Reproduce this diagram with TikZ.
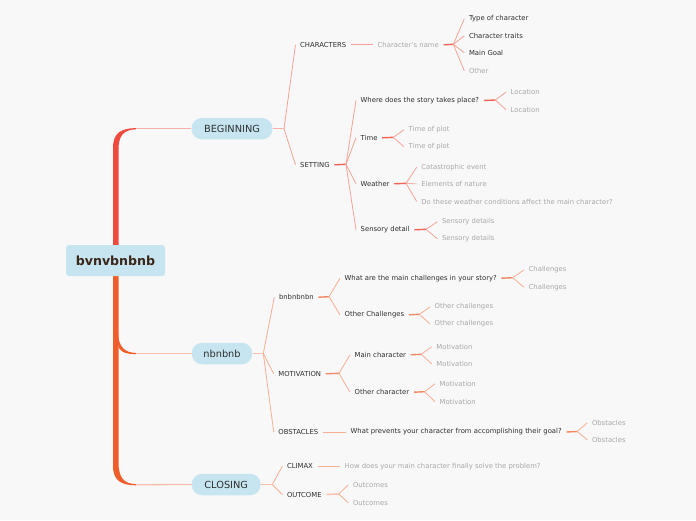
\documentclass[tikz,border=0pt]{standalone}
\usepackage{fontspec}
\setmainfont{DejaVu Sans}
\definecolor{bg}{HTML}{F8F8F8}
\definecolor{nodeblue}{HTML}{C6E5F0}
\definecolor{txtdark}{HTML}{2E2E2E}
\definecolor{txtgray}{HTML}{A8A8A8}
\definecolor{roottext}{HTML}{3A2618}
\definecolor{trunkA}{HTML}{EE4A3E}
\definecolor{trunkB}{HTML}{EF5D2A}
\definecolor{thinA}{HTML}{F6B2AA}
\definecolor{thinB}{HTML}{F8C0AC}
\definecolor{fanA}{HTML}{F5A398}
\definecolor{stubA}{HTML}{F06456}
\definecolor{fanB}{HTML}{F6AE94}
\definecolor{stubB}{HTML}{F08A66}
\tikzset{
  lab/.style={anchor=west, inner xsep=4.5pt, inner ysep=1pt, yshift=-0.5pt, font=\fontsize{6.85}{8}\selectfont, text=txtdark},
  glab/.style={lab, text=txtgray},
  topic/.style={fill=nodeblue, rounded corners=10.5pt, minimum height=21.5pt, inner sep=0pt, text=txtdark, font=\fontsize{9.8}{11}\selectfont},
  rootbox/.style={fill=nodeblue, rounded corners=3pt, minimum width=99pt, minimum height=31pt, inner sep=0pt, text=roottext, font=\fontsize{12.6}{14}\selectfont\bfseries},
  fana/.style={draw=fanA, line width=0.8pt},
  stuba/.style={draw=stubA, line width=1.4pt},
  fanb/.style={draw=fanB, line width=0.8pt},
  stubb/.style={draw=stubB, line width=1.4pt},
}
\begin{document}
\begin{tikzpicture}[x=1pt,y=-1pt]
\fill[bg] (0,0) rectangle (696,520);
\useasboundingbox (0,0) rectangle (696,520);

% ---------- trunk ----------
\fill[trunkA] (113,250) -- (113,148) .. controls (113,133) and (121,128.2) .. (136,128.1)
  -- (136,129.3) .. controls (123,129.8) and (118.5,136) .. (118.5,150) -- (118.5,250) -- cycle;
\fill[trunkB] (113,270) -- (113,466) .. controls (113,481) and (122,485.3) .. (136,485.3)
  -- (136,484.1) .. controls (124,483.8) and (118.5,478) .. (118.5,462) -- (118.5,270) -- cycle;
\fill[trunkB] (118,333) .. controls (118.5,347) and (125,352.9) .. (136,352.9)
  -- (136,354.1) .. controls (123,354.3) and (118,350) .. (118,344) -- cycle;

\node[rootbox] (root) at (115.5,260.5) {bvnvbnbnb};

% ---------- topics ----------
\node[topic, minimum width=81pt] (beg) at (232,128.7) {BEGINNING};
\node[topic, minimum width=60.6pt] (nbn) at (222,353.5) {nbnbnb};
\node[topic, minimum width=69pt] (clo) at (226.2,484.5) {CLOSING};

\coordinate (tB) at (136,128.7);
\coordinate (tN) at (136,353.5);
\coordinate (tC) at (136,484.7);
\draw[thinA, line width=1.3pt] (tB) -- (beg.west);
\draw[thinB, line width=1.3pt] (tN) -- (nbn.west);
\draw[thinB, line width=1.3pt] (tC) -- (clo.west);

% ================= BEGINNING =================
\coordinate (jB) at (284,128.7);
\node[lab] (chars) at (295.5,44.3) {CHARACTERS};
\node[lab] (sett) at (295.5,164.3) {SETTING};
\draw[stuba, draw=thinA] (beg.east) -- (jB);
\draw[fana] (jB) -- (chars.west);
\draw[fana] (jB) -- (sett.west);

% characters
\node[glab] (cname) at (373,44.3) {Character's name};
\draw[fana] (chars.east) -- (cname.west);
\coordinate (jCN) at (453.3,44.3);
\draw[stuba] (cname.east) -- (jCN);
\node[lab] (c1) at (464.3,18.3) {Type of character};
\node[lab] (c2) at (464.3,35.3) {Character traits};
\node[lab] (c3) at (464.3,52.3) {Main Goal};
\node[glab] (c4) at (464.3,70.3) {Other};
\foreach \n in {c1,c2,c3,c4} \draw[fana] (jCN) -- (\n.west);

% setting
\coordinate (jS) at (346,164.3);
\draw[stuba] (sett.east) -- (jS);
\node[lab] (where) at (356,100) {Where does the story takes place?};
\node[lab] (time) at (356,137.3) {Time};
\node[lab] (weat) at (356,183.3) {Weather};
\node[lab] (sens) at (356,229.3) {Sensory detail};
\foreach \n in {where,time,weat,sens} \draw[fana] (jS) -- (\n.west);

\coordinate (jW) at (495.3,100);
\draw[stuba] (where.east) -- (jW);
\node[glab] (w1) at (506,91.6) {Location};
\node[glab] (w2) at (506,109.2) {Location};
\foreach \n in {w1,w2} \draw[fana] (jW) -- (\n.west);

\coordinate (jT) at (393.3,137.3);
\draw[stuba] (time.east) -- (jT);
\node[glab] (t1) at (404,129.3) {Time of plot};
\node[glab] (t2) at (404,146.3) {Time of plot};
\foreach \n in {t1,t2} \draw[fana] (jT) -- (\n.west);

\coordinate (jWe) at (406,183.3);
\draw[stuba] (weat.east) -- (jWe);
\node[glab] (e1) at (416.7,166.7) {Catastrophic event};
\node[glab] (e2) at (416.7,183.3) {Elements of nature};
\node[glab] (e3) at (416.7,201) {Do these weather conditions affect the main character?};
\draw[fana] (jWe) -- (e1.west);
\draw[fana, draw=thinA] (jWe) -- (e2.west);
\draw[fana] (jWe) -- (e3.west);

\coordinate (jSe) at (426,229.3);
\draw[stuba] (sens.east) -- (jSe);
\node[glab] (s1) at (437.3,221.3) {Sensory details};
\node[glab] (s2) at (437.3,238.3) {Sensory details};
\foreach \n in {s1,s2} \draw[fana] (jSe) -- (\n.west);

% ================= nbnbnb =================
\coordinate (jN) at (263.3,353.5);
\draw[stubb, draw=thinB] (nbn.east) -- (jN);
\node[lab] (bnb) at (274.3,296.7) {bnbnbnbn};
\node[lab] (motiv) at (273.7,373.3) {MOTIVATION};
\node[lab] (obst) at (273.7,431.5) {OBSTACLES};
\foreach \n in {bnb,motiv,obst} \draw[fanb] (jN) -- (\n.west);

\coordinate (jBn) at (329,296.7);
\draw[stubb] (bnb.east) -- (jBn);
\node[lab] (q1) at (340,277.7) {What are the main challenges in your story?};
\node[lab] (q2) at (340,314.3) {Other Challenges};
\foreach \n in {q1,q2} \draw[fanb] (jBn) -- (\n.west);

\coordinate (jQ) at (512.7,277.7);
\draw[stubb] (q1.east) -- (jQ);
\node[glab] (ch1) at (524,269.4) {Challenges};
\node[glab] (ch2) at (524,286.8) {Challenges};
\foreach \n in {ch1,ch2} \draw[fanb] (jQ) -- (\n.west);

\coordinate (jOC) at (419.3,314.3);
\draw[stubb] (q2.east) -- (jOC);
\node[glab] (oc1) at (430,306.5) {Other challenges};
\node[glab] (oc2) at (430,323.5) {Other challenges};
\foreach \n in {oc1,oc2} \draw[fanb] (jOC) -- (\n.west);

\coordinate (jM) at (339,373.3);
\draw[stubb] (motiv.east) -- (jM);
\node[lab] (mc) at (350,354.3) {Main character};
\node[lab] (oc) at (350,391.7) {Other character};
\foreach \n in {mc,oc} \draw[fanb] (jM) -- (\n.west);

\coordinate (jMC) at (421.3,354.3);
\draw[stubb] (mc.east) -- (jMC);
\node[glab] (m1) at (431.7,346.2) {Motivation};
\node[glab] (m2) at (431.7,363.4) {Motivation};
\foreach \n in {m1,m2} \draw[fanb] (jMC) -- (\n.west);

\coordinate (jOCh) at (424.7,391.7);
\draw[stubb] (oc.east) -- (jOCh);
\node[glab] (m3) at (435,383.3) {Motivation};
\node[glab] (m4) at (435,401.2) {Motivation};
\foreach \n in {m3,m4} \draw[fanb] (jOCh) -- (\n.west);

\node[lab] (prev) at (346,431.5) {What prevents your character from accomplishing their goal?};
\draw[fanb] (obst.east) -- (prev.west);
\coordinate (jP) at (577.3,431.5);
\draw[stubb] (prev.east) -- (jP);
\node[glab] (o1) at (587.3,422.3) {Obstacles};
\node[glab] (o2) at (587.3,439.3) {Obstacles};
\foreach \n in {o1,o2} \draw[fanb] (jP) -- (\n.west);

% ================= CLOSING =================
\coordinate (jC) at (272.3,484.5);
\draw[stubb, draw=thinB] (clo.east) -- (jC);
\node[lab] (clim) at (282.3,465.8) {CLIMAX};
\node[lab] (outc) at (282.3,494) {OUTCOME};
\foreach \n in {clim,outc} \draw[fanb] (jC) -- (\n.west);

\node[glab] (how) at (340,465.8) {How does your main character finally solve the problem?};
\draw[fanb] (clim.east) -- (how.west);

\coordinate (jO) at (338.7,494);
\draw[stubb, draw=thinB] (outc.east) -- (jO);
\node[glab] (u1) at (348.3,484.3) {Outcomes};
\node[glab] (u2) at (348.3,502.3) {Outcomes};
\foreach \n in {u1,u2} \draw[fanb] (jO) -- (\n.west);
\end{tikzpicture}
\end{document}
